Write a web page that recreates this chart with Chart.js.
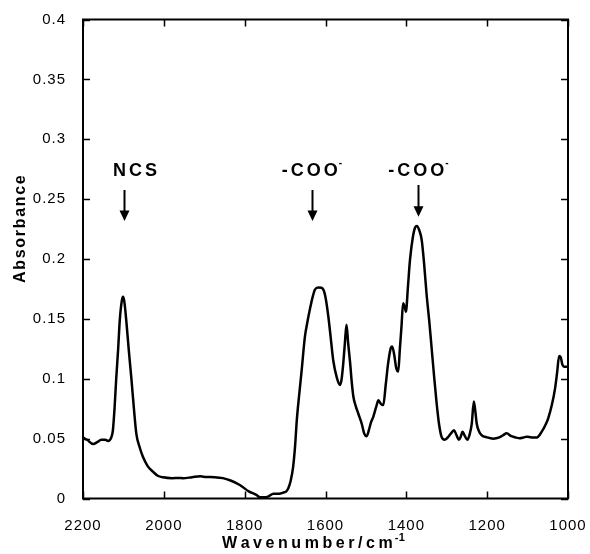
<!DOCTYPE html>
<html>
<head>
<meta charset="utf-8">
<script src="https://cdn.jsdelivr.net/npm/chart.js@4.4.1/dist/chart.umd.min.js"></script>
<style>
  html, body { margin: 0; padding: 0; background: #fff; }
  #wrap { width: 590px; height: 554px; }
</style>
</head>
<body>
<div id="wrap"><canvas id="ir"></canvas></div>
<script>
// IR spectrum
const wavenumber = [
  2200, 2190, 2175, 2165, 2155, 2145, 2138, 2130, 2126, 2122, 2118, 2113, 2109, 2104, 2101, 2098,
  2093, 2087, 2080, 2074, 2068, 2060, 2052, 2040, 2027, 2015, 2002, 1980, 1960, 1953, 1930, 1910,
  1895, 1875, 1854, 1835, 1812, 1790, 1771, 1762, 1750, 1740, 1729, 1715, 1704, 1697, 1692, 1686,
  1680, 1675, 1671, 1665, 1659, 1651, 1645, 1638, 1632, 1626, 1618, 1610, 1604, 1600, 1593, 1587,
  1581, 1572, 1564, 1560, 1556, 1552, 1548, 1544, 1539, 1535, 1531, 1525, 1519, 1510, 1504, 1498,
  1492, 1487, 1482, 1475, 1469, 1463, 1457, 1451, 1445, 1439, 1435, 1430, 1425, 1420, 1416, 1412,
  1408, 1404, 1401, 1396, 1391, 1384, 1378, 1374, 1368, 1362, 1356, 1350, 1343, 1337, 1331, 1325,
  1319, 1313, 1305, 1295, 1288, 1282, 1276, 1270, 1265, 1261, 1255, 1249, 1243, 1238, 1233, 1229,
  1226, 1220, 1214, 1200, 1185, 1170, 1160, 1152, 1140, 1130, 1119, 1110, 1102, 1090, 1077, 1065,
  1055, 1049, 1040, 1032, 1027, 1022, 1018, 1014, 1010, 1000
];
const absorbance = [
  0.051, 0.049, 0.0455, 0.047, 0.049, 0.049, 0.048, 0.051, 0.057, 0.075, 0.099, 0.125, 0.149, 0.165, 0.1685, 0.165,
  0.149, 0.125, 0.099, 0.075, 0.054, 0.043, 0.035, 0.027, 0.0224, 0.019, 0.0177, 0.017, 0.0172, 0.0169, 0.0178, 0.0185,
  0.018, 0.0178, 0.017, 0.015, 0.0113, 0.006, 0.003, 0.001, 0.001, 0.002, 0.004, 0.004, 0.005, 0.006, 0.0085, 0.015,
  0.0266, 0.045, 0.0655, 0.087, 0.107, 0.135, 0.147, 0.159, 0.168, 0.1745, 0.1763, 0.176, 0.1735, 0.168, 0.152, 0.134,
  0.1157, 0.101, 0.0948, 0.1, 0.113, 0.13, 0.145, 0.13, 0.113, 0.097, 0.085, 0.077, 0.071, 0.062, 0.054, 0.052,
  0.058, 0.064, 0.068, 0.076, 0.082, 0.079, 0.078, 0.095, 0.113, 0.125, 0.127, 0.12, 0.109, 0.106, 0.125, 0.1435,
  0.163, 0.16, 0.156, 0.177, 0.199, 0.218, 0.2265, 0.2276, 0.224, 0.216, 0.196, 0.171, 0.147, 0.124, 0.101, 0.0795,
  0.062, 0.0516, 0.049, 0.052, 0.055, 0.057, 0.053, 0.049, 0.052, 0.0558, 0.052, 0.049, 0.054, 0.0628, 0.081, 0.072,
  0.0628, 0.056, 0.053, 0.051, 0.05, 0.051, 0.053, 0.0544, 0.052, 0.051, 0.0503, 0.051, 0.0516, 0.051, 0.051, 0.0558,
  0.062, 0.067, 0.078, 0.092, 0.105, 0.119, 0.118, 0.112, 0.11, 0.11
];

// band labels: text, where the text starts, where the arrow points
const bandLabels = ["NCS", "-COO", "-COO"];
const bandCharge = ["", "-", "-"];
const bandTextX = [2126, 1708, 1445];
const bandArrowX = [2099, 1633, 1371];
const bandArrowTop = [0.2576, 0.2576, 0.2618];
const bandArrowTip = [0.2317, 0.2317, 0.2353];

const FONT = "'Liberation Sans', Arial, Helvetica, sans-serif";

// draw text one character at a time with extra spacing, returns the end x
function spaced(ctx, str, x, y, gap) {
  for (const ch of str) {
    ctx.fillText(ch, x, y);
    x += ctx.measureText(ch).width + gap;
  }
  return x - gap;
}

// tick marks inside the frame on all four sides + frame box
const frameTicks = {
  id: "frameTicks",
  afterDatasetsDraw(chart) {
    const { ctx, chartArea: a, scales: { x, y } } = chart;
    ctx.save();
    ctx.strokeStyle = "#000";
    ctx.lineWidth = 1.5;
    ctx.beginPath();
    x.ticks.forEach(t => {
      const px = Math.round(x.getPixelForValue(t.value)) + 0.5;
      ctx.moveTo(px, a.bottom); ctx.lineTo(px, a.bottom - 7);
      ctx.moveTo(px, a.top); ctx.lineTo(px, a.top + 7);
    });
    y.ticks.forEach(t => {
      const py = Math.round(y.getPixelForValue(t.value)) + 0.5;
      ctx.moveTo(a.left, py); ctx.lineTo(a.left + 7, py);
      ctx.moveTo(a.right, py); ctx.lineTo(a.right - 7, py);
    });
    ctx.stroke();
    ctx.lineWidth = 2;
    ctx.strokeRect(a.left, a.top, a.right - a.left, a.bottom - a.top);
    ctx.restore();
  }
};

// arrows, band labels and axis titles
const labels = {
  id: "labels",
  afterDraw(chart) {
    const { ctx, scales: { x, y } } = chart;
    ctx.save();
    ctx.fillStyle = "#000";
    ctx.strokeStyle = "#000";
    ctx.letterSpacing = "0px";
    ctx.textAlign = "left";
    ctx.textBaseline = "alphabetic";

    bandLabels.forEach((txt, i) => {
      const tx = x.getPixelForValue(bandTextX[i]);
      const ty = 176;
      ctx.font = "bold 18px " + FONT;
      const end = spaced(ctx, txt, tx, ty, 3);
      if (bandCharge[i]) {
        ctx.font = "bold 10px " + FONT;
        ctx.fillText(bandCharge[i], end + 1, ty - 10);
      }
      // arrow
      const ax = Math.round(x.getPixelForValue(bandArrowX[i])) + 0.5;
      const top = y.getPixelForValue(bandArrowTop[i]);
      const tip = y.getPixelForValue(bandArrowTip[i]);
      ctx.lineWidth = 2;
      ctx.beginPath();
      ctx.moveTo(ax, top); ctx.lineTo(ax, tip - 6);
      ctx.stroke();
      ctx.beginPath();
      ctx.moveTo(ax - 5, tip - 10.5);
      ctx.lineTo(ax + 5, tip - 10.5);
      ctx.lineTo(ax, tip);
      ctx.closePath();
      ctx.fill();
    });

    // x title with superscript
    ctx.font = "bold 16px " + FONT;
    const xEnd = spaced(ctx, "Wavenumber/cm", 222, 548, 3.55);
    ctx.font = "bold 11px " + FONT;
    spaced(ctx, "-1", xEnd + 2, 541, 0.5);

    // y title
    ctx.translate(25, 228);
    ctx.rotate(-Math.PI / 2);
    ctx.font = "bold 16px " + FONT;
    spaced(ctx, "Absorbance", -55, 0, 1.7);
    ctx.restore();
  }
};

// spaced tick digits like the original
const spacing = {
  id: "spacing",
  beforeUpdate(chart) { chart.ctx.letterSpacing = "1px"; },
  beforeDraw(chart) { chart.ctx.letterSpacing = "1px"; }
};

new Chart(document.getElementById("ir"), {
  type: "line",
  data: {
    datasets: [{
      data: wavenumber.map((w, i) => ({ x: w, y: absorbance[i] })),
      borderColor: "#000",
      borderWidth: 2.5,
      pointRadius: 0,
      fill: false,
      cubicInterpolationMode: "monotone"
    }]
  },
  options: {
    responsive: true,
    maintainAspectRatio: false,
    animation: false,
    layout: { padding: { top: 19.5, right: 22, left: 0, bottom: 0 } },
    plugins: { legend: { display: false }, tooltip: { enabled: false } },
    scales: {
      x: {
        type: "linear",
        reverse: true,
        min: 1000,
        max: 2200,
        grid: { display: false },
        border: { display: false },
        ticks: {
          stepSize: 200,
          padding: 10,
          color: "#000",
          font: { family: FONT, size: 15 },
          maxRotation: 0,
          callback: v => String(v)
        },
        afterFit: s => { s.height = 55.5; s.paddingLeft = 0; s.paddingRight = 0; }
      },
      y: {
        min: 0,
        max: 0.4,
        grid: { display: false },
        border: { display: false },
        ticks: {
          stepSize: 0.05,
          padding: 9,
          color: "#000",
          font: { family: FONT, size: 15 },
          callback: v => String(+v.toFixed(2))
        },
        afterFit: s => { s.width = 83; }
      }
    }
  },
  plugins: [spacing, frameTicks, labels]
});
</script>
</body>
</html>
